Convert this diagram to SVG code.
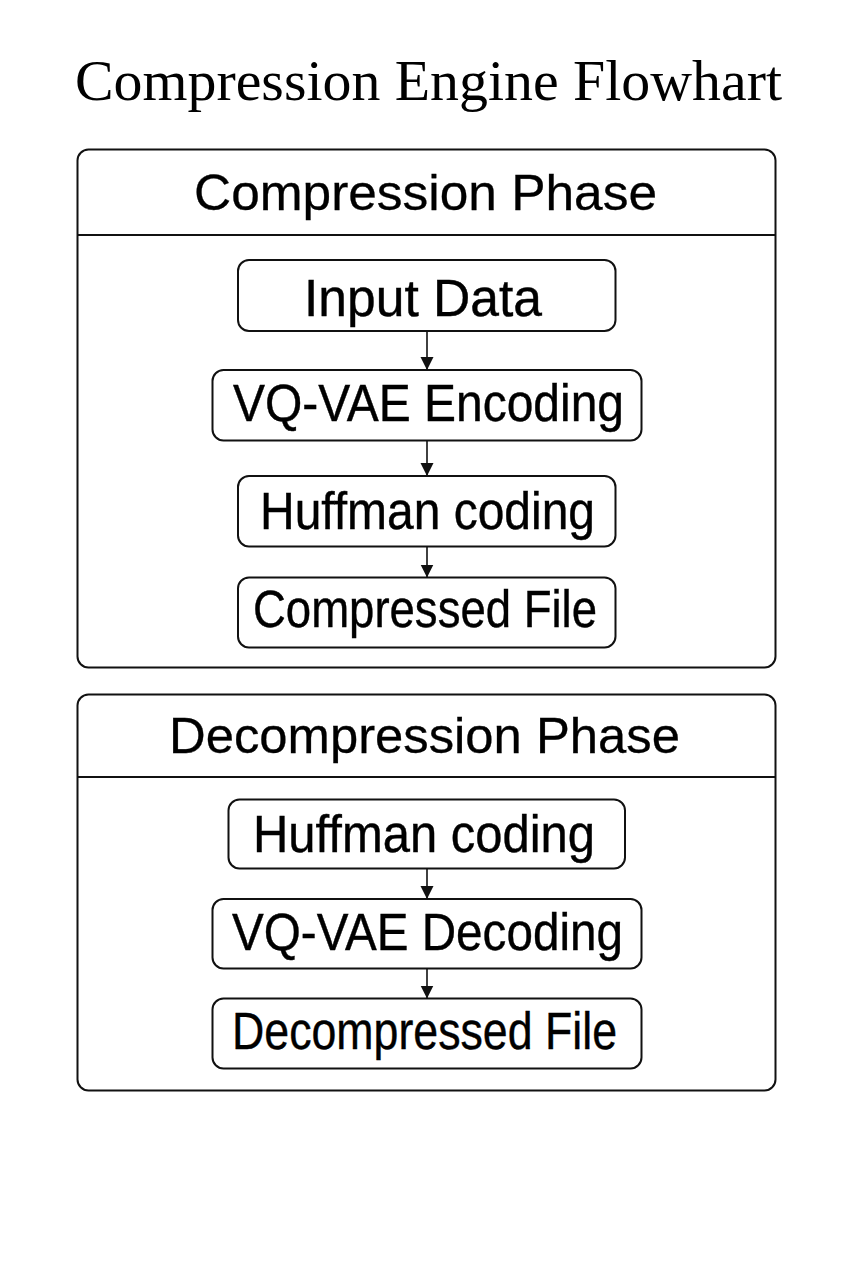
<svg xmlns="http://www.w3.org/2000/svg" width="853" height="1280" viewBox="0 0 853 1280">
<style>
.bg{fill:#ffffff}
.panel{fill:#ffffff;stroke:#111111;stroke-width:2}
.div{stroke:#111111;stroke-width:2}
.node{fill:#ffffff;stroke:#111111;stroke-width:2}
.t{font-family:"Liberation Sans",Arial,sans-serif;font-size:51px;fill:#000000;stroke:#000000;stroke-width:0.4}
.h{font-family:"Liberation Sans",Arial,sans-serif;font-size:50px;fill:#000000;stroke:#000000;stroke-width:0.3}
.title{font-family:"Liberation Serif","Times New Roman",serif;font-size:56px;fill:#000000}
.edge{stroke:#111111;stroke-width:1.6;fill:none}
</style>
<defs>
<marker id="arr" markerWidth="15" markerHeight="14" refX="13" refY="7" orient="auto" markerUnits="userSpaceOnUse">
<path d="M0,0.5 L13,7 L0,13.5 Z" fill="#111111"/>
</marker>
</defs>
<rect class="bg" x="0" y="0" width="853" height="1280"/>
<text class="title" x="75" y="100" textLength="707" lengthAdjust="spacingAndGlyphs">Compression Engine Flowhart</text>

<g id="compression-phase">
<rect class="panel" x="77.5" y="149.5" width="698" height="518" rx="11"/>
<line class="div" x1="77.5" y1="235" x2="775.5" y2="235"/>
<text class="h" x="194" y="209.5" textLength="463" lengthAdjust="spacingAndGlyphs">Compression Phase</text>
</g>
<g id="decompression-phase">
<rect class="panel" x="77.5" y="694.5" width="698" height="396" rx="11"/>
<line class="div" x1="77.5" y1="777" x2="775.5" y2="777"/>
<text class="h" x="169" y="753" textLength="511" lengthAdjust="spacingAndGlyphs">Decompression Phase</text>
</g>

<g id="input-data">
<rect class="node" x="238" y="260" width="377.5" height="71" rx="11"/>
<text class="t" x="304" y="315.5" textLength="238" lengthAdjust="spacingAndGlyphs">Input Data</text>
</g>
<g id="vqvae-encoding">
<rect class="node" x="212.5" y="370" width="429" height="70.5" rx="11"/>
<text class="t" x="233" y="420.5" textLength="391" lengthAdjust="spacingAndGlyphs">VQ-VAE Encoding</text>
</g>
<g id="huffman-encode">
<rect class="node" x="238" y="476" width="377.5" height="70.5" rx="11"/>
<text class="t" x="260" y="528.5" textLength="335" lengthAdjust="spacingAndGlyphs">Huffman coding</text>
</g>
<g id="compressed-file">
<rect class="node" x="238" y="577.5" width="377.5" height="70" rx="11"/>
<text class="t" x="253" y="627" textLength="344" lengthAdjust="spacingAndGlyphs">Compressed File</text>
</g>

<g id="huffman-decode">
<rect class="node" x="228.5" y="799.5" width="396.5" height="69" rx="11"/>
<text class="t" x="253" y="852" textLength="342" lengthAdjust="spacingAndGlyphs">Huffman coding</text>
</g>
<g id="vqvae-decoding">
<rect class="node" x="212.5" y="899" width="429" height="69.5" rx="11"/>
<text class="t" x="232" y="950" textLength="391" lengthAdjust="spacingAndGlyphs">VQ-VAE Decoding</text>
</g>
<g id="decompressed-file">
<rect class="node" x="212.5" y="998.5" width="429" height="70" rx="11"/>
<text class="t" x="232" y="1048.5" textLength="385" lengthAdjust="spacingAndGlyphs">Decompressed File</text>
</g>

<g id="connectors">
<line class="edge" x1="427" y1="331" x2="427" y2="370" marker-end="url(#arr)"/>
<line class="edge" x1="427" y1="440.5" x2="427" y2="476" marker-end="url(#arr)"/>
<line class="edge" x1="427" y1="546.5" x2="427" y2="577.5" marker-end="url(#arr)"/>
<line class="edge" x1="427" y1="868.5" x2="427" y2="899" marker-end="url(#arr)"/>
<line class="edge" x1="427" y1="968.5" x2="427" y2="998.5" marker-end="url(#arr)"/>
</g>
</svg>
